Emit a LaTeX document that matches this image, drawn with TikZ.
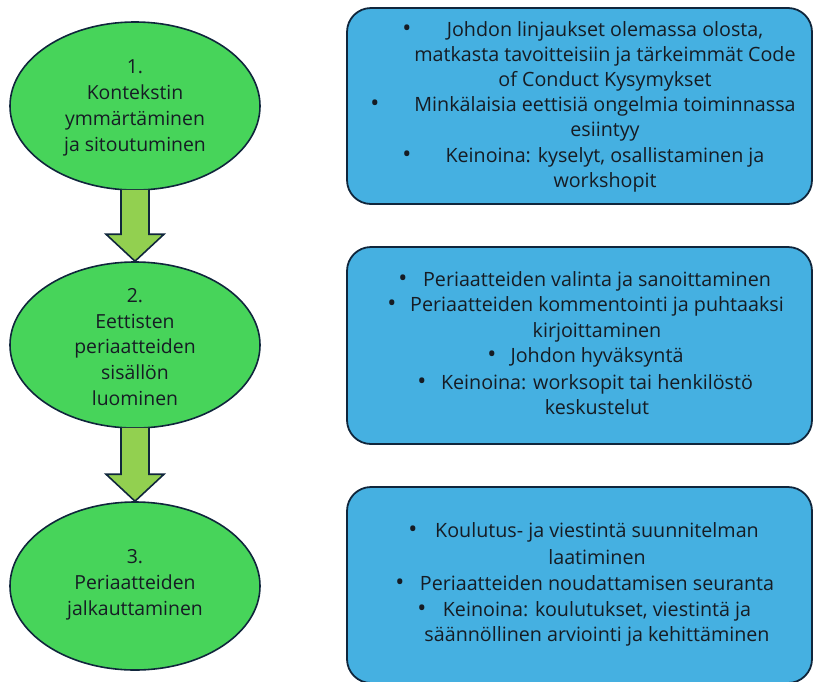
\documentclass[tikz,border=0pt]{standalone}
\usepackage{fontspec}
\setmainfont{Open Sans}[Ligatures=NoCommon]
\usetikzlibrary{shapes.geometric,calc}
\definecolor{egreen}{RGB}{71,212,90}
\definecolor{agreen}{RGB}{146,208,80}
\definecolor{bblue}{RGB}{69,176,225}
\definecolor{navy}{RGB}{16,38,60}
\definecolor{ink}{RGB}{22,28,36}
\tikzset{
  stage/.style={ellipse,draw=navy,line width=1.6pt,fill=egreen,minimum width=250pt,minimum height=168pt,inner sep=0pt},
  stagetext/.style={align=center,font=\fontsize{19.4}{25.8}\selectfont,text=ink},
  infobox/.style={rectangle,rounded corners=24pt,draw=navy,line width=1.8pt,fill=bblue,minimum width=465pt,inner sep=0pt},
  txt/.style={font=\fontsize{19.7}{22}\selectfont,text=ink,inner sep=0pt,text height=13pt,text depth=4pt},
  dot/.style={font=\fontsize{24}{24}\selectfont,text=ink,inner sep=0pt,text height=13pt,text depth=4pt},
  flow/.style={draw=navy,line width=1.6pt,fill=agreen,line join=miter}
}
\begin{document}
\begin{tikzpicture}[x=1pt,y=-1pt]
\useasboundingbox (0,0) rectangle (814,681);
% stages
\node[stage] (e1) at (135,106) {};
\node[stage,minimum height=166pt] (e2) at (135,345) {};
\node[stage] (e3) at (135,586) {};
\node[stagetext] (e1t) at (135,108) {1.\\Kontekstin\\ymmärtäminen\\ja sitoutuminen};
\node[stagetext] (e2t) at (135,347) {2.\\Eettisten\\periaatteiden\\sisällön\\luominen};
\node[stagetext] (e3t) at (135,585) {3.\\Periaatteiden\\jalkauttaminen};
% arrows
\foreach \a/\b in {e1/e2,e2/e3}{
  \draw[flow] ($(\a.south)+(-14,-1)$) -- ($(\b.north)+(-14,-27)$) -- ($(\b.north)+(-29,-27)$)
    -- (\b.north) -- ($(\b.north)+(29,-27)$) -- ($(\b.north)+(14,-27)$) -- ($(\a.south)+(14,-1)$);
}
% boxes
\node[infobox,minimum height=196pt] (b1) at (579.5,106) {};
\node[infobox,minimum height=197pt] (b2) at (579.5,345.5) {};
\node[infobox,minimum height=196pt] (b3) at (579.5,585) {};
% box 1 text
\node[dot] (b1p1) at (407,32) {•};
\node[txt] (b1l1) at (605,32) {Johdon linjaukset olemassa olosta,};
\node[txt] (b1l2) at (605,57) {matkasta tavoitteisiin ja tärkeimmät Code};
\node[txt] (b1l3) at (605,82) {of Conduct Kysymykset};
\node[dot] (b1p2) at (375,107) {•};
\node[txt] (b1l4) at (605,107) {Minkälaisia eettisiä ongelmia toiminnassa};
\node[txt] (b1l5) at (605,132) {esiintyy};
\node[dot] (b1p3) at (407,158) {•};
\node[txt] (b1l6) at (605,158) {Keinoina: kyselyt, osallistaminen ja};
\node[txt] (b1l7) at (605,183) {workshopit};
% box 2 text
\node[dot] (b2p1) at (403,282) {•};
\node[txt] (b2l1) at (597,282) {Periaatteiden valinta ja sanoittaminen};
\node[dot] (b2p2) at (392,307) {•};
\node[txt] (b2l2) at (597,307) {Periaatteiden kommentointi ja puhtaaksi};
\node[txt] (b2l3) at (597,333) {kirjoittaminen};
\node[dot] (b2p3) at (492,358) {•};
\node[txt] (b2l4) at (597,358) {Johdon hyväksyntä};
\node[dot] (b2p4) at (422,385) {•};
\node[txt] (b2l5) at (597,385) {Keinoina: worksopit tai henkilöstö};
\node[txt] (b2l6) at (597,410) {keskustelut};
% box 3 text
\node[dot] (b3p1) at (413,533) {•};
\node[txt] (b3l1) at (597,533) {Koulutus- ja viestintä suunnitelman};
\node[txt] (b3l2) at (597,560) {laatiminen};
\node[dot] (b3p2) at (400,586) {•};
\node[txt] (b3l3) at (597,586) {Periaatteiden noudattamisen seuranta};
\node[dot] (b3p3) at (422,612) {•};
\node[txt] (b3l4) at (597,612) {Keinoina: koulutukset, viestintä ja};
\node[txt] (b3l5) at (597,637) {säännöllinen arviointi ja kehittäminen};
\end{tikzpicture}
\end{document}
